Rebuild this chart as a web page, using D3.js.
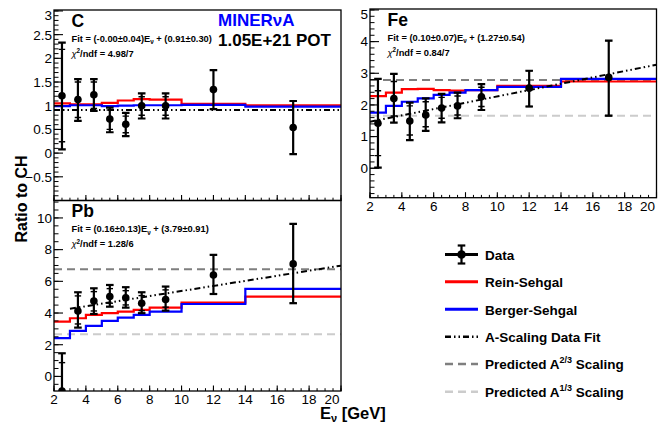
<!DOCTYPE html>
<html><head><meta charset="utf-8">
<script src="https://cdn.jsdelivr.net/npm/d3@7"></script>
<style>
html,body{margin:0;padding:0;background:#fff;}
svg{display:block;font-family:"Liberation Sans",Arial,Helvetica,sans-serif;}
</style>
</head><body>
<svg id="chart" width="658" height="423"></svg>
<script>
// ---------- data ----------
const binEdges = [2,3,4,5,6,7,8,10,14,20];
const energyPoints = [2.5,3.5,4.5,5.5,6.5,7.5,9,12,17];
const xTickLabels = [2,4,6,8,10,12,14,16,18,20];

// Carbon
const cData   = [1.21,1.13,1.23,0.72,0.61,1.00,1.00,1.34,0.54];
const cTotHi  = [2.33,1.56,1.56,0.96,0.85,1.26,1.26,1.75,1.10];
const cTotLo  = [0.08,0.68,0.89,0.44,0.36,0.73,0.73,0.93,-0.02];
const cStatHi = [2.19,1.50,1.50,0.91,0.78,1.19,1.19,1.75,1.10];
const cStatLo = [0.24,0.75,0.94,0.50,0.43,0.80,0.80,0.93,-0.02];
const cRein   = [1.05,1.03,1.03,1.06,1.11,1.14,1.13,1.04,1.01];
const cBerger = [0.99,1.01,1.01,0.99,1.00,1.01,1.01,1.02,0.98];
const cYTicks = [-0.5,0,0.5,1,1.5,2,2.5,3];
const cFit = [-0.00, 0.91];

// Iron
const feData   = [1.42,2.20,1.49,1.68,1.90,1.97,2.26,2.53,2.87];
const feTotHi  = [2.82,2.98,2.07,2.21,2.35,2.39,2.66,3.08,4.03];
const feTotLo  = [0.02,1.44,0.89,1.18,1.45,1.58,1.84,1.95,1.66];
const feStatHi = [2.45,2.74,1.97,2.10,2.24,2.28,2.56,3.08,4.03];
const feStatLo = [0.40,1.65,1.05,1.31,1.58,1.68,1.95,1.95,1.66];
const feRein   = [2.28,2.39,2.50,2.51,2.47,2.45,2.47,2.60,2.74];
const feBerger = [1.76,1.97,2.10,2.21,2.32,2.39,2.47,2.57,2.82];
const feYTicks = [0,1,2,3,4,5];
const feFit = [0.10, 1.27];
const feScaling = [2.79, 1.66];

// Lead
const pbData   = [-0.92,4.12,4.76,5.04,4.96,4.62,4.85,6.40,7.10];
const pbTotHi  = [1.46,5.31,5.56,5.77,5.63,5.31,5.67,7.67,9.62];
const pbTotLo  = [-3.0,3.08,3.94,4.40,4.34,3.99,4.15,5.20,4.62];
const pbStatHi = [0.87,5.08,5.35,5.54,5.41,5.10,5.46,7.67,9.62];
const pbStatLo = [-2.5,3.31,4.13,4.62,4.51,4.15,4.37,5.20,4.62];
const pbRein   = [3.46,3.67,3.88,3.99,4.09,4.20,4.34,4.66,5.04];
const pbBerger = [2.41,2.87,3.19,3.50,3.71,3.88,4.09,4.57,5.52];
const pbYTicks = [0,2,4,6,8,10];
const pbFit = [0.16, 3.79];
const pbScaling = [6.76, 2.66];

// ---------- drawing ----------
const svg = d3.select("#chart");
const RED = "#ff0000", BLUE = "#0000ff", DARKG = "#7f7f7f", LIGHTG = "#cccccc";
const FITDASH = "6,3,1.5,3,1.5,3";

const panels = [
  {id:"c", name:"C", x0:54, x1:341, y0:10, y1:200.5, yDom:[-1.0,3.02], minor:0.1,
   yTicks:cYTicks, fmt:d=>d<0?"\u2212"+Math.abs(d):String(d), xLabels:false,
   data:cData, totHi:cTotHi, totLo:cTotLo, statHi:cStatHi, statLo:cStatLo,
   rein:cRein, berger:cBerger, fit:cFit, fitStart:2, scaling:null,
   fitText:["(-0.00\u00b10.04)","(0.91\u00b10.30)"], chi:"4.98/7"},
  {id:"fe", name:"Fe", x0:370, x1:656.5, y0:9, y1:197.7, yDom:[-0.93,5.03], minor:0.2,
   yTicks:feYTicks, fmt:d=>String(d), xLabels:true,
   data:feData, totHi:feTotHi, totLo:feTotLo, statHi:feStatHi, statLo:feStatLo,
   rein:feRein, berger:feBerger, fit:feFit, fitStart:2, scaling:feScaling,
   fitText:["(0.10\u00b10.07)","(1.27\u00b10.54)"], chi:"0.84/7"},
  {id:"pb", name:"Pb", x0:54, x1:341, y0:200.5, y1:391, yDom:[-0.92,11.1], minor:0.5,
   yTicks:pbYTicks, fmt:d=>String(d), xLabels:true,
   data:pbData, totHi:pbTotHi, totLo:pbTotLo, statHi:pbStatHi, statLo:pbStatLo,
   rein:pbRein, berger:pbBerger, fit:pbFit, fitStart:3, scaling:pbScaling,
   fitText:["(0.16\u00b10.13)","(3.79\u00b10.91)"], chi:"1.28/6"}
];

const defs = svg.append("defs");

panels.forEach(p => {
  const x = d3.scaleLinear().domain([2,20]).range([p.x0,p.x1]);
  const y = d3.scaleLinear().domain(p.yDom).range([p.y1,p.y0]);
  defs.append("clipPath").attr("id","clip-"+p.id).append("rect")
    .attr("x",p.x0).attr("y",p.y0).attr("width",p.x1-p.x0).attr("height",p.y1-p.y0);
  const g = svg.append("g");
  const plot = g.append("g").attr("clip-path","url(#clip-"+p.id+")");

  // scaling lines
  if (p.scaling) {
    [[p.scaling[0],DARKG],[p.scaling[1],LIGHTG]].forEach(([v,c]) => {
      plot.append("line").attr("x1",p.x0).attr("x2",p.x1)
        .attr("y1",y(v)).attr("y2",y(v))
        .attr("stroke",c).attr("stroke-width",2).attr("stroke-dasharray","8,5");
    });
  }
  // histograms
  const stepLine = d3.line().x(d=>x(d[0])).y(d=>y(d[1])).curve(d3.curveStepAfter);
  [[p.rein,RED],[p.berger,BLUE]].forEach(([vals,c]) => {
    const pts = vals.map((v,i)=>[binEdges[i],v]);
    pts.push([binEdges[binEdges.length-1], vals[vals.length-1]]);
    plot.append("path").attr("d",stepLine(pts)).attr("fill","none")
      .attr("stroke",c).attr("stroke-width",2.2);
  });
  // fit line
  plot.append("line")
    .attr("x1",x(p.fitStart)).attr("y1",y(p.fit[0]*p.fitStart+p.fit[1]))
    .attr("x2",x(20)).attr("y2",y(p.fit[0]*20+p.fit[1]))
    .attr("stroke","#000").attr("stroke-width",2).attr("stroke-dasharray",FITDASH);

  // data points
  p.data.forEach((v,i) => {
    const cx = x(energyPoints[i]);
    plot.append("line").attr("x1",cx).attr("x2",cx)
      .attr("y1",y(p.totHi[i])).attr("y2",y(p.totLo[i]))
      .attr("stroke","#000").attr("stroke-width",2.2);
    [p.totHi[i],p.totLo[i]].forEach(e => plot.append("line")
      .attr("x1",cx-3.8).attr("x2",cx+3.8).attr("y1",y(e)).attr("y2",y(e))
      .attr("stroke","#000").attr("stroke-width",2.2));
    [p.statHi[i],p.statLo[i]].forEach(e => plot.append("line")
      .attr("x1",cx-3.2).attr("x2",cx+3.2).attr("y1",y(e)).attr("y2",y(e))
      .attr("stroke","#000").attr("stroke-width",1.4));
    plot.append("circle").attr("cx",cx).attr("cy",y(v)).attr("r",3.8).attr("fill","#000");
  });

  // frame
  g.append("rect").attr("x",p.x0).attr("y",p.y0).attr("width",p.x1-p.x0).attr("height",p.y1-p.y0)
    .attr("fill","none").attr("stroke","#000").attr("stroke-width",1.3);

  // y ticks (inward)
  const yMinor = d3.range(Math.ceil(p.yDom[0]/p.minor), Math.floor(p.yDom[1]/p.minor)+1).map(k=>k*p.minor);
  yMinor.forEach(t => g.append("line").attr("x1",p.x0).attr("x2",p.x0+4.5)
    .attr("y1",y(t)).attr("y2",y(t)).attr("stroke","#000").attr("stroke-width",1));
  p.yTicks.forEach(t => {
    g.append("line").attr("x1",p.x0).attr("x2",p.x0+9)
      .attr("y1",y(t)).attr("y2",y(t)).attr("stroke","#000").attr("stroke-width",1.1);
    g.append("text").attr("x",p.x0-2).attr("y",Math.max(y(t),p.y0+5)).attr("dy","0.36em")
      .attr("text-anchor","end").attr("font-size",13.5).text(p.fmt(t));
  });
  // x ticks (inward)
  d3.range(4,41).map(k=>k*0.5).forEach(t => g.append("line").attr("x1",x(t)).attr("x2",x(t))
    .attr("y1",p.y1).attr("y2",p.y1-2.8).attr("stroke","#000").attr("stroke-width",1));
  xTickLabels.forEach(t => {
    g.append("line").attr("x1",x(t)).attr("x2",x(t)).attr("y1",p.y1).attr("y2",p.y1-5.5)
      .attr("stroke","#000").attr("stroke-width",1.1);
    if (p.xLabels) g.append("text").attr("x",Math.min(x(t),p.x1-9)).attr("y",p.y1+13)
      .attr("text-anchor","middle").attr("font-size",13.5).text(t);
  });

  // panel texts
  const tx = p.x0 + 17.5;
  g.append("text").attr("x",tx).attr("y",p.y0+16.5).attr("font-size",17.5)
    .attr("font-weight","bold").text(p.name);
  const ft = g.append("text").attr("x",tx).attr("y",p.y0+31.5).attr("font-size",9.3)
    .attr("font-weight","bold");
  ft.append("tspan").text("Fit = "+p.fitText[0]+"E");
  ft.append("tspan").attr("font-size",6.3).attr("dy",2.5).text("\u03bd");
  ft.append("tspan").attr("dy",-2.5).text(" + "+p.fitText[1]);
  const ct = g.append("text").attr("x",tx).attr("y",p.y0+46.5).attr("font-size",9.3)
    .attr("font-weight","bold");
  ct.append("tspan").attr("font-weight","normal").attr("font-style","italic").text("\u03c7");
  ct.append("tspan").attr("font-size",6.3).attr("dy",-3.5).text("2");
  ct.append("tspan").attr("dy",3.5).text("/ndf = "+p.chi);
});

// MINERvA label
svg.append("text").attr("x",218).attr("y",26).attr("font-size",17).attr("font-weight","bold")
  .attr("fill",BLUE).text("MINER\u03bdA");
svg.append("text").attr("x",218).attr("y",45.5).attr("font-size",17).attr("font-weight","bold")
  .attr("fill","#000").text("1.05E+21 POT");

// axis titles
svg.append("text").attr("transform","translate(27,199) rotate(-90)").attr("text-anchor","middle")
  .attr("font-size",16).attr("font-weight","bold").text("Ratio to CH");
const xt = svg.append("text").attr("x",320).attr("y",419).attr("font-size",16.5).attr("font-weight","bold");
xt.append("tspan").text("E");
xt.append("tspan").attr("font-size",11).attr("dy",3).text("\u03bd");
xt.append("tspan").attr("dy",-3).text(" [GeV]");

// ---------- legend ----------
const legendItems = ["Data","Rein-Sehgal","Berger-Sehgal","A-Scaling Data Fit","Predicted A","Predicted A"];
const legendY = [254.5,281.7,309.3,336.7,364,391.7];
const lg = svg.append("g");
const lx0 = 445, lx1 = 478, ltx = 485;
// Data
lg.append("line").attr("x1",lx0).attr("x2",lx1).attr("y1",legendY[0]).attr("y2",legendY[0])
  .attr("stroke","#000").attr("stroke-width",3);
lg.append("line").attr("x1",461.5).attr("x2",461.5).attr("y1",legendY[0]-9).attr("y2",legendY[0]+9)
  .attr("stroke","#000").attr("stroke-width",2.2);
[-9,9].forEach(d=>lg.append("line").attr("x1",457.7).attr("x2",465.3)
  .attr("y1",legendY[0]+d).attr("y2",legendY[0]+d).attr("stroke","#000").attr("stroke-width",2.2));
lg.append("circle").attr("cx",461.5).attr("cy",legendY[0]).attr("r",4.3).attr("fill","#000");
// lines
const legendStyles = [null,[RED,null],[BLUE,null],["#000",FITDASH],[DARKG,"8,5"],[LIGHTG,"8,5"]];
legendStyles.forEach((s,i) => {
  if (!s) return;
  lg.append("line").attr("x1",lx0).attr("x2",lx1).attr("y1",legendY[i]).attr("y2",legendY[i])
    .attr("stroke",s[0]).attr("stroke-width",i<3?3:2.4).attr("stroke-dasharray",s[1]);
});
const supers = [null,null,null,null,"2/3","1/3"];
legendItems.forEach((t,i) => {
  const tt = lg.append("text").attr("x",ltx).attr("y",legendY[i]+5.3).attr("font-size",13.5)
    .attr("font-weight","bold");
  tt.append("tspan").text(t);
  if (supers[i]) {
    tt.append("tspan").attr("font-size",9).attr("dy",-6).text(supers[i]);
    tt.append("tspan").attr("dy",6).text(" Scaling");
  }
});
</script>
</body></html>
